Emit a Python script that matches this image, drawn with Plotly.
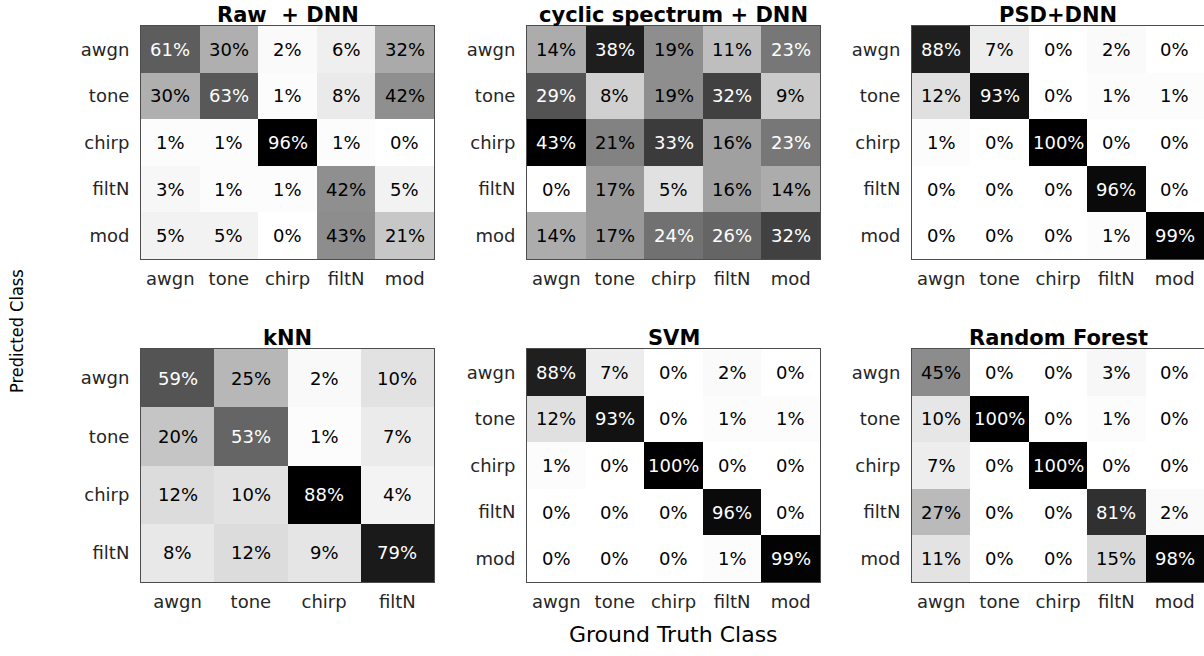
import plotly.graph_objects as go
from plotly.subplots import make_subplots

# class labels
classes5 = ["awgn", "tone", "chirp", "filtN", "mod"]
classes4 = ["awgn", "tone", "chirp", "filtN"]

# confusion matrices (rows = predicted class, columns = ground truth), in %
raw_dnn = [
    [61, 30, 2, 6, 32],
    [30, 63, 1, 8, 42],
    [1, 1, 96, 1, 0],
    [3, 1, 1, 42, 5],
    [5, 5, 0, 43, 21],
]
cyclic_dnn = [
    [14, 38, 19, 11, 23],
    [29, 8, 19, 32, 9],
    [43, 21, 33, 16, 23],
    [0, 17, 5, 16, 14],
    [14, 17, 24, 26, 32],
]
psd_dnn = [
    [88, 7, 0, 2, 0],
    [12, 93, 0, 1, 1],
    [1, 0, 100, 0, 0],
    [0, 0, 0, 96, 0],
    [0, 0, 0, 1, 99],
]
knn = [
    [59, 25, 2, 10],
    [20, 53, 1, 7],
    [12, 10, 88, 4],
    [8, 12, 9, 79],
]
svm = [
    [88, 7, 0, 2, 0],
    [12, 93, 0, 1, 1],
    [1, 0, 100, 0, 0],
    [0, 0, 0, 96, 0],
    [0, 0, 0, 1, 99],
]
random_forest = [
    [45, 0, 0, 3, 0],
    [10, 100, 0, 1, 0],
    [7, 0, 100, 0, 0],
    [27, 0, 0, 81, 2],
    [11, 0, 0, 15, 98],
]

panels = [
    ("Raw  + DNN", raw_dnn, classes5),
    ("cyclic spectrum + DNN", cyclic_dnn, classes5),
    ("PSD+DNN", psd_dnn, classes5),
    ("kNN", knn, classes4),
    ("SVM", svm, classes5),
    ("Random Forest", random_forest, classes5),
]

W, H = 1204, 656
FONT = "DejaVu Sans, Liberation Sans, sans-serif"


def px_x(x):
    return x / W


def px_y(y):
    return 1 - y / H


fig = make_subplots(rows=2, cols=3)

# pixel boxes of each panel (left, right) and (top, bottom)
col_px = [(141, 434), (527, 820), (912, 1204)]
row_px = [(26, 259), (349, 582)]

annotations = []
for k, (title, z, labels) in enumerate(panels):
    r, c = k // 3 + 1, k % 3 + 1
    zmax = max(max(row) for row in z)
    fig.add_trace(
        go.Heatmap(
            z=z,
            x=labels,
            y=labels,
            zmin=0,
            zmax=zmax,
            colorscale=[[0, "#ffffff"], [1, "#000000"]],
            showscale=False,
            hoverinfo="skip",
        ),
        row=r,
        col=c,
    )
    suffix = "" if k == 0 else str(k + 1)
    xa, ya = "x" + suffix, "y" + suffix
    x0, x1 = col_px[c - 1]
    y0, y1 = row_px[r - 1]
    fig.update_xaxes(
        domain=[px_x(x0), min(px_x(x1), 1)], automargin=False,
        showline=True, mirror=True, linecolor="#4d4d4d", linewidth=1,
        ticks="", showgrid=False, zeroline=False,
        tickfont=dict(family=FONT, size=18, color="#262626"),
        ticklabelstandoff=3,
        row=r, col=c,
    )
    fig.update_yaxes(
        domain=[px_y(y1), px_y(y0)], automargin=False,
        autorange="reversed",
        showline=True, mirror=True, linecolor="#4d4d4d", linewidth=1,
        ticks="", showgrid=False, zeroline=False,
        tickfont=dict(family=FONT, size=18, color="#262626"),
        ticklabelstandoff=7,
        row=r, col=c,
    )
    # cell values
    for i, lab_y in enumerate(labels):
        for j, lab_x in enumerate(labels):
            v = z[i][j]
            annotations.append(dict(
                x=lab_x, y=lab_y, xref=xa, yref=ya,
                text=f"{v}%", showarrow=False,
                font=dict(family=FONT, size=18,
                          color="#ffffff" if v / zmax > 0.5 else "#000000"),
            ))
    # panel title
    annotations.append(dict(
        x=px_x((x0 + x1) / 2), y=px_y(y0), xref="paper", yref="paper",
        text=f"<b>{title}</b>", showarrow=False,
        xanchor="center", yanchor="bottom", yshift=-3,
        font=dict(family=FONT, size=21, color="#000000"),
    ))

annotations.append(dict(
    x=px_x(673), y=px_y(634), xref="paper", yref="paper",
    text="Ground Truth Class", showarrow=False,
    xanchor="center", yanchor="middle",
    font=dict(family=FONT, size=22, color="#000000"),
))
annotations.append(dict(
    x=px_x(17), y=px_y(331), xref="paper", yref="paper",
    text="Predicted Class", showarrow=False, textangle=-90,
    xanchor="center", yanchor="middle",
    font=dict(family="Liberation Sans Narrow, DejaVu Sans Condensed, sans-serif",
              size=18, color="#000000"),
))

fig.update_layout(
    width=W, height=H,
    margin=dict(l=0, r=0, t=0, b=0, autoexpand=False),
    paper_bgcolor="white", plot_bgcolor="white",
    annotations=annotations,
)

# drop the page's default body margin so the figure fills the window
fig.write_html(
    "out.html",
    config={"displayModeBar": False},
    post_script="document.body.style.margin='0px';",
)
